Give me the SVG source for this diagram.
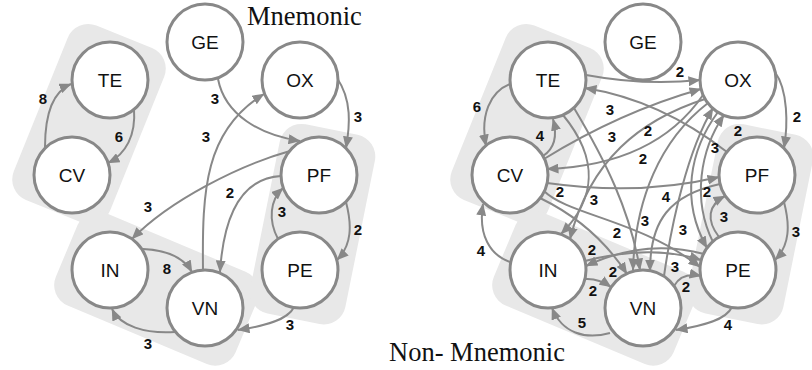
<svg xmlns="http://www.w3.org/2000/svg" width="812" height="370" viewBox="0 0 812 370">
  <defs>
    <style>
      .grp { fill: #e8e8e8; }
      .node circle { fill: #fff; stroke: #888; stroke-width: 3; }
      .node text { font-family: "Liberation Sans", Arial, sans-serif; font-size: 19px; text-anchor: middle; fill: #111; }
      .edges path { fill: none; stroke: #888; stroke-width: 2; marker-end: url(#ah); }
      .lbl { font-family: "Liberation Sans", Arial, sans-serif; font-weight: bold; font-size: 15px; text-anchor: middle; fill: #111; }
      .title { font-family: "Liberation Serif", "Times New Roman", serif; font-size: 26.5px; fill: #111; }
    </style>
    <marker id="ah" markerUnits="userSpaceOnUse" viewBox="0 0 12 10" markerWidth="12" markerHeight="10" refX="11.5" refY="5" orient="auto">
      <path d="M0,0 L12,5 L0,10 z" fill="#888"/>
    </marker>
    <!-- cluster backdrops shared by both graphs -->
    <g id="clusters">
      <rect class="grp" x="37" y="30" width="104" height="188" rx="22" transform="rotate(22 89 124)"/>
      <rect class="grp" x="59.1" y="238.6" width="195" height="100" rx="22" transform="rotate(22.8 156.6 288.6)"/>
      <rect class="grp" x="264.1" y="127.7" width="97" height="193" rx="22" transform="rotate(11.4 312.6 224.2)"/>
    </g>
  </defs>

  <!-- backdrops -->
  <use href="#clusters"/>
  <use href="#clusters" transform="translate(438 0)"/>

  <!-- titles -->
  <text class="title" x="247" y="25">Mnemonic</text>
  <text class="title" x="389" y="361">Non- Mnemonic</text>

  <!-- connectors: mnemonic graph -->
  <g id="edges-mnemonic" class="edges">
    <path d="M45,147 C45,115 52,92 71,84"/>
    <path d="M134,109 C136,135 126,154 108,163"/>
    <path d="M218,79 C225,115 260,135 300,141"/>
    <path d="M203,270 C202,190 205,130 264,94"/>
    <path d="M337,78 C352,100 350,125 346,148"/>
    <path d="M290,151 C240,165 170,200 132,239"/>
    <path d="M281,176 C245,178 224,210 220,272"/>
    <path d="M143,249 C165,250 183,256 192,272"/>
    <path d="M278,239 C268,220 270,200 283,188"/>
    <path d="M346,202 C352,225 352,245 337,260"/>
    <path d="M294,307 C288,320 265,326 238,330"/>
    <path d="M175,332 C145,334 120,326 112,309"/>
  </g>
  <g id="labels-mnemonic">
    <text class="lbl" x="43" y="104">8</text>
    <text class="lbl" x="119" y="142">6</text>
    <text class="lbl" x="215" y="104">3</text>
    <text class="lbl" x="206" y="142">3</text>
    <text class="lbl" x="358" y="122">3</text>
    <text class="lbl" x="148" y="212">3</text>
    <text class="lbl" x="230" y="198">2</text>
    <text class="lbl" x="167" y="274">8</text>
    <text class="lbl" x="282" y="217">3</text>
    <text class="lbl" x="358" y="235">2</text>
    <text class="lbl" x="290" y="330">3</text>
    <text class="lbl" x="148" y="349">3</text>
  </g>

  <!-- connectors: non-mnemonic graph -->
  <g id="edges-non-mnemonic" class="edges">
    <path d="M510,84 C490,92 480,115 486,146"/>
    <path d="M543,156 Q560,145 553,119"/>
    <path d="M586,75 Q645,86 700,80"/>
    <path d="M727,152 Q660,100 585,88"/>
    <path d="M775,72 C788,90 788,125 784,148"/>
    <path d="M719,237 C706,220 708,205 725,196"/>
    <path d="M784,202 C790,225 790,245 775,260"/>
    <path d="M732,307 C726,320 703,326 676,330"/>
    <path d="M610,333 C585,340 562,333 552,308"/>
    <path d="M510,262 C490,255 478,235 483,204"/>
    <path d="M544,159 Q620,112 701,89"/>
    <path d="M705,99 C640,120 590,160 570,239"/>
    <path d="M703,95 Q655,165 547,169"/>
    <path d="M708,103 C660,140 635,200 633,270"/>
    <path d="M664,276 C672,220 688,150 713,108"/>
    <path d="M713,242 C692,200 700,150 724,115"/>
    <path d="M547,183 Q640,196 719,177"/>
    <path d="M585,279 Q598,278 611,287"/>
    <path d="M674,286 Q682,272 701,276"/>
    <path d="M585,261 Q650,244 701,260"/>
    <path d="M704,254 Q645,238 586,266"/>
    <path d="M574,108 C605,160 630,210 640,270"/>
    <path d="M563,115 C600,160 595,200 561,234"/>
    <path d="M720,184 C670,195 650,220 650,271"/>
    <path d="M718,112 C690,150 680,200 707,248"/>
    <path d="M540,198 C575,215 605,240 627,274"/>
    <path d="M544,191 C568,215 640,220 700,267"/>
  </g>
  <g id="labels-non-mnemonic">
    <text class="lbl" x="477" y="112">6</text>
    <text class="lbl" x="540" y="141">4</text>
    <text class="lbl" x="680" y="77">2</text>
    <text class="lbl" x="738" y="136">2</text>
    <text class="lbl" x="797" y="122">2</text>
    <text class="lbl" x="724" y="222">3</text>
    <text class="lbl" x="796" y="237">3</text>
    <text class="lbl" x="728" y="330">4</text>
    <text class="lbl" x="582" y="328">5</text>
    <text class="lbl" x="481" y="256">4</text>
    <text class="lbl" x="610" y="115">3</text>
    <text class="lbl" x="612" y="142">3</text>
    <text class="lbl" x="648" y="136">2</text>
    <text class="lbl" x="643" y="164">2</text>
    <text class="lbl" x="666" y="202">4</text>
    <text class="lbl" x="715" y="153">3</text>
    <text class="lbl" x="707" y="197">2</text>
    <text class="lbl" x="593" y="296">2</text>
    <text class="lbl" x="686" y="292">2</text>
    <text class="lbl" x="675" y="272">3</text>
    <text class="lbl" x="592" y="255">2</text>
    <text class="lbl" x="617" y="238">2</text>
    <text class="lbl" x="594" y="205">3</text>
    <text class="lbl" x="645" y="226">3</text>
    <text class="lbl" x="683" y="235">3</text>
    <text class="lbl" x="613" y="277">2</text>
    <text class="lbl" x="560" y="197">2</text>
  </g>

  <!-- nodes: mnemonic graph -->
  <g id="m-TE" class="node"><circle cx="110" cy="80" r="38"/><text x="110" y="86.5">TE</text></g>
  <g id="m-CV" class="node"><circle cx="72" cy="175" r="38"/><text x="72" y="181.5">CV</text></g>
  <g id="m-GE" class="node"><circle cx="205" cy="42" r="38"/><text x="205" y="48.5">GE</text></g>
  <g id="m-OX" class="node"><circle cx="300" cy="80" r="38"/><text x="300" y="86.5">OX</text></g>
  <g id="m-PF" class="node"><circle cx="319" cy="175" r="38"/><text x="319" y="181.5">PF</text></g>
  <g id="m-IN" class="node"><circle cx="110" cy="270" r="38"/><text x="110" y="276.5">IN</text></g>
  <g id="m-VN" class="node"><circle cx="205" cy="308" r="38"/><text x="205" y="314.5">VN</text></g>
  <g id="m-PE" class="node"><circle cx="300" cy="270" r="38"/><text x="300" y="276.5">PE</text></g>

  <!-- nodes: non-mnemonic graph -->
  <g id="n-TE" class="node"><circle cx="548" cy="80" r="38"/><text x="548" y="86.5">TE</text></g>
  <g id="n-CV" class="node"><circle cx="510" cy="175" r="38"/><text x="510" y="181.5">CV</text></g>
  <g id="n-GE" class="node"><circle cx="643" cy="42" r="38"/><text x="643" y="48.5">GE</text></g>
  <g id="n-OX" class="node"><circle cx="738" cy="80" r="38"/><text x="738" y="86.5">OX</text></g>
  <g id="n-PF" class="node"><circle cx="757" cy="175" r="38"/><text x="757" y="181.5">PF</text></g>
  <g id="n-IN" class="node"><circle cx="548" cy="270" r="38"/><text x="548" y="276.5">IN</text></g>
  <g id="n-VN" class="node"><circle cx="643" cy="308" r="38"/><text x="643" y="314.5">VN</text></g>
  <g id="n-PE" class="node"><circle cx="738" cy="270" r="38"/><text x="738" y="276.5">PE</text></g>
</svg>
